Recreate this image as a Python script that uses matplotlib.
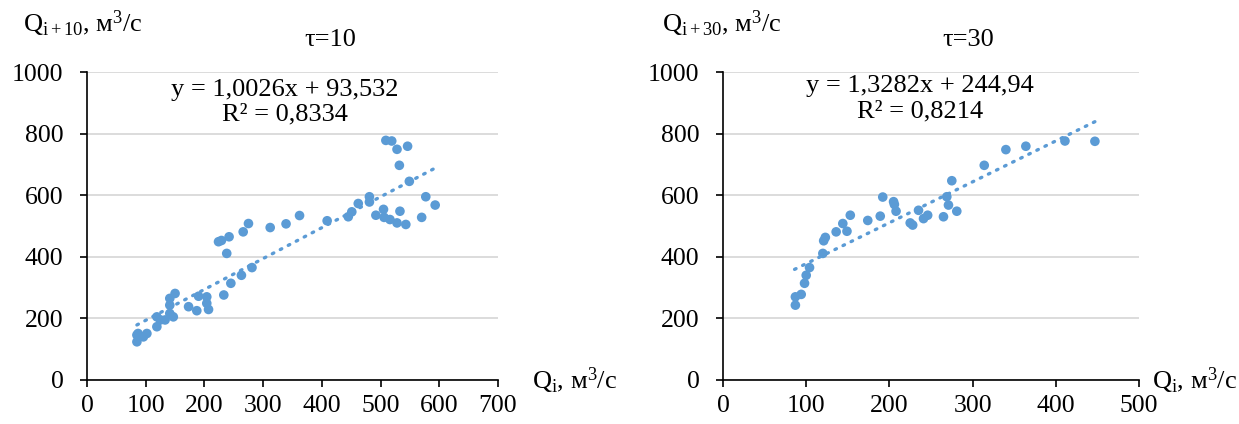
import matplotlib
matplotlib.use('Agg')
import matplotlib.pyplot as plt
import numpy as np

plt.rcParams.update({
    'font.family': 'Liberation Serif',
    'font.size': 19,
    'mathtext.fontset': 'custom',
    'mathtext.rm': 'Liberation Serif',
    'mathtext.it': 'Liberation Serif:italic',
})

PT_CLR = '#5B9BD5'
GRID_CLR = '#D9D9D9'

# ── Data: tau = 10 ────────────────────────────────────────────────────
q10_x = [85, 85, 87, 96, 102, 119, 119, 125, 133, 141, 141, 141, 150, 147,
         173, 187, 190, 204, 204, 207, 233, 245, 263, 281, 238, 224, 229, 242,
         266, 275, 312, 339, 362, 409, 445, 451, 462, 481, 481, 492, 505, 506,
         516, 528, 543, 533, 509, 519, 528, 546, 532, 549, 570, 577, 593]
q10_y = [124, 146, 151, 140, 151, 173, 205, 195, 195, 216, 243, 265, 281, 205,
         238, 225, 272, 270, 249, 229, 276, 314, 340, 365, 411, 449, 453, 465,
         481, 508, 495, 507, 534, 517, 530, 546, 573, 595, 578, 535, 554, 528,
         521, 510, 505, 548, 778, 776, 749, 759, 697, 645, 528, 595, 568]
fit10 = (1.0026, 93.532, 85, 590)

# ── Data: tau = 30 ────────────────────────────────────────────────────
q30_x = [87, 87, 94, 98, 100, 104, 120, 121, 123, 136, 144, 149, 153, 174,
         189, 192, 205, 206, 208, 225, 228, 235, 241, 246, 265, 269, 271, 275,
         281, 314, 340, 364, 411, 447]
q30_y = [243, 270, 278, 314, 340, 365, 411, 452, 463, 481, 508, 483, 535, 518,
         532, 594, 579, 570, 548, 510, 503, 551, 524, 535, 530, 595, 568, 647,
         548, 697, 748, 759, 776, 775]
fit30 = (1.3282, 244.94, 86, 447)

W, H = 1239, 424
fig = plt.figure(figsize=(W / 100, H / 100), dpi=100)


def px_axes(x0, x1, y_top, y_bot):
    return fig.add_axes([x0 / W, 1 - y_bot / H, (x1 - x0) / W, (y_bot - y_top) / H])


def style(ax, xmax):
    ax.set_xlim(0, xmax)
    ax.set_ylim(0, 1000)
    ax.set_xticks(np.arange(0, xmax + 1, 100))
    ax.set_yticks(np.arange(0, 1001, 200))
    ax.yaxis.grid(True, color=GRID_CLR, lw=1.3, zorder=0)
    ax.set_axisbelow(True)
    for s in ['top', 'right']:
        ax.spines[s].set_visible(False)
    for s in ['left', 'bottom']:
        ax.spines[s].set_color('black')
        ax.spines[s].set_linewidth(1.2)
    ax.tick_params(length=5, width=1.2, labelsize=18.5, colors='black')
    ax.tick_params(axis='y', pad=12)
    ax.tick_params(axis='x', pad=6)


def panel(ax, xs, ys, fit, xmax):
    style(ax, xmax)
    a, b, x0, x1 = fit
    fx = np.array([x0, x1])
    ax.plot(fx, a * fx + b, color=PT_CLR, lw=2.4, linestyle=(0, (0.5, 2.2)),
            dash_capstyle='round', zorder=2)
    ax.scatter(xs, ys, s=48, color=PT_CLR, edgecolor='none', zorder=3)


ax1 = px_axes(87, 498, 72, 380)
panel(ax1, q10_x, q10_y, fit10, 700)
ax2 = px_axes(723, 1139, 72, 380)
panel(ax2, q30_x, q30_y, fit30, 500)


def ftext(x, y, s, **kw):
    fig.text(x / W, 1 - y / H, s, fontsize=19, va='center', **kw)


# panel 1 labels
ftext(23, 24, r'Q$_{\mathrm{i+10}}$, м$^3$/с', ha='left')
ftext(330, 40, 'τ=10', ha='center')
ftext(285, 90, 'y = 1,0026x + 93,532', ha='center')
ftext(285, 114, 'R² = 0,8334', ha='center')
ftext(532, 381, r'Q$_{\mathrm{i}}$, м$^3$/с', ha='left')

# panel 2 labels
ftext(662, 24, r'Q$_{\mathrm{i+30}}$, м$^3$/с', ha='left')
ftext(968, 40, 'τ=30', ha='center')
ftext(920, 86, 'y = 1,3282x + 244,94', ha='center')
ftext(920, 111, 'R² = 0,8214', ha='center')
ftext(1152, 381, r'Q$_{\mathrm{i}}$, м$^3$/с', ha='left')

fig.savefig('out.png', dpi=100, facecolor='white')
plt.close()
